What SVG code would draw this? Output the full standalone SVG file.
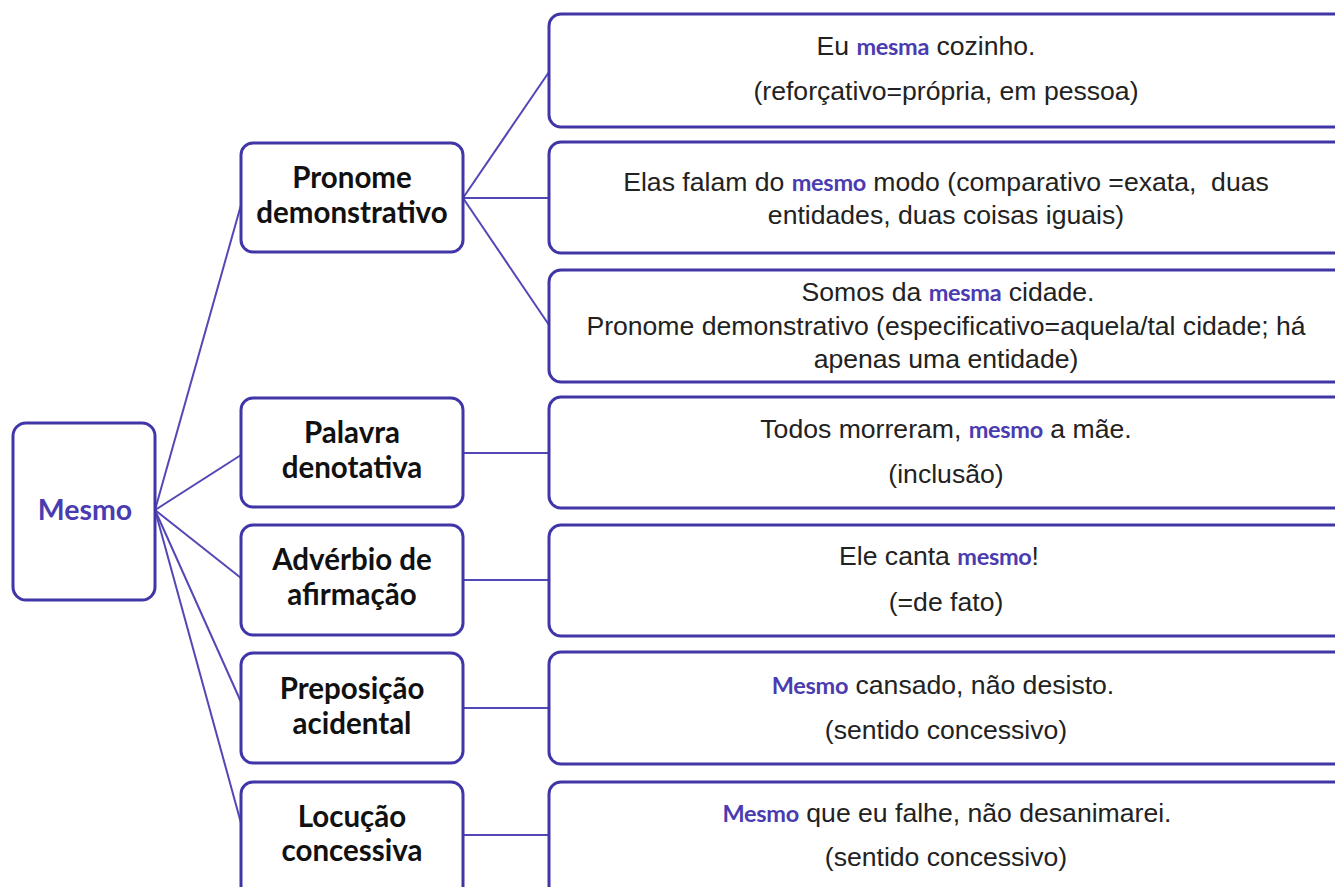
<svg xmlns="http://www.w3.org/2000/svg" width="1335" height="887" viewBox="0 0 1335 887">
<style>
.box{fill:#fff;stroke:#4136a8;stroke-width:3}
.conn line{stroke:#5247b5;stroke-width:2}
.mid{font-family:Lato,"Liberation Sans",sans-serif;font-weight:bold;font-size:29.5px;fill:#111;text-anchor:middle}
.root{font-family:Lato,"Liberation Sans",sans-serif;font-weight:bold;font-size:28.5px;fill:#4a3cb0;text-anchor:middle}
.ex{font-family:"Liberation Sans",Arial,sans-serif;font-size:26.6px;fill:#222;text-anchor:middle}
.hl{font-family:Lato,"Liberation Sans",sans-serif;font-weight:bold;font-size:23.5px;letter-spacing:-0.3px;fill:#4a3cb0}
</style>
<rect width="1335" height="887" fill="#fff"/>
<g id="connectors" class="conn">
<line x1="155" y1="510" x2="241" y2="205"/>
<line x1="155" y1="510" x2="241" y2="455"/>
<line x1="155" y1="510" x2="241" y2="578"/>
<line x1="155" y1="510" x2="241" y2="702"/>
<line x1="155" y1="510" x2="241" y2="823"/>
<line x1="463" y1="198" x2="549" y2="72"/>
<line x1="463" y1="198" x2="549" y2="198"/>
<line x1="463" y1="198" x2="549" y2="325"/>
<line x1="463" y1="453" x2="549" y2="453"/>
<line x1="463" y1="580" x2="549" y2="580"/>
<line x1="463" y1="708" x2="549" y2="708"/>
<line x1="463" y1="835" x2="549" y2="835"/>
</g>
<g id="root">
<rect class="box" x="13" y="423" width="142" height="177" rx="13"/>
<text class="root" x="85" y="520">Mesmo</text>
</g>
<g id="pronome">
<rect class="box" x="241" y="143" width="222" height="109" rx="12"/>
<text class="mid" x="352" y="188">Pronome</text>
<text class="mid" x="352" y="223">demonstrativo</text>
</g>
<g id="palavra">
<rect class="box" x="241" y="398" width="222" height="109" rx="12"/>
<text class="mid" x="352" y="443">Palavra</text>
<text class="mid" x="352" y="478">denotativa</text>
</g>
<g id="adverbio">
<rect class="box" x="241" y="525" width="222" height="110" rx="12"/>
<text class="mid" x="352" y="570">Advérbio de</text>
<text class="mid" x="352" y="605">afirmação</text>
</g>
<g id="preposicao">
<rect class="box" x="241" y="653" width="222" height="110" rx="12"/>
<text class="mid" x="352" y="699">Preposição</text>
<text class="mid" x="352" y="734">acidental</text>
</g>
<g id="locucao">
<rect class="box" x="241" y="782" width="222" height="120" rx="12"/>
<text class="mid" x="352" y="827">Locução</text>
<text class="mid" x="352" y="861">concessiva</text>
</g>
<g id="ex1">
<rect class="box" x="549" y="14" width="800" height="113" rx="12"/>
<text class="ex" x="926" y="55">Eu <tspan class="hl">mesma</tspan> cozinho.</text>
<text class="ex" x="946" y="100">(reforçativo=própria, em pessoa)</text>
</g>
<g id="ex2">
<rect class="box" x="549" y="142" width="800" height="111" rx="12"/>
<text class="ex" x="946" y="191" xml:space="preserve">Elas falam do <tspan class="hl">mesmo</tspan> modo (comparativo =exata,  duas</text>
<text class="ex" x="946" y="224">entidades, duas coisas iguais)</text>
</g>
<g id="ex3">
<rect class="box" x="549" y="270" width="800" height="112" rx="12"/>
<text class="ex" x="948" y="301">Somos da <tspan class="hl">mesma</tspan> cidade.</text>
<text class="ex" x="946" y="335">Pronome demonstrativo (especificativo=aquela/tal cidade; há</text>
<text class="ex" x="946" y="368">apenas uma entidade)</text>
</g>
<g id="ex4">
<rect class="box" x="549" y="397" width="800" height="111" rx="12"/>
<text class="ex" x="946" y="438">Todos morreram, <tspan class="hl">mesmo</tspan> a mãe.</text>
<text class="ex" x="946" y="483">(inclusão)</text>
</g>
<g id="ex5">
<rect class="box" x="549" y="525" width="800" height="111" rx="12"/>
<text class="ex" x="939" y="565">Ele canta <tspan class="hl">mesmo</tspan>!</text>
<text class="ex" x="946" y="611">(=de fato)</text>
</g>
<g id="ex6">
<rect class="box" x="549" y="652" width="800" height="112" rx="12"/>
<text class="ex" x="943" y="694"><tspan class="hl">Mesmo</tspan> cansado, não desisto.</text>
<text class="ex" x="946" y="739">(sentido concessivo)</text>
</g>
<g id="ex7">
<rect class="box" x="549" y="782" width="800" height="120" rx="12"/>
<text class="ex" x="947" y="822"><tspan class="hl">Mesmo</tspan> que eu falhe, não desanimarei.</text>
<text class="ex" x="946" y="866">(sentido concessivo)</text>
</g>
</svg>
